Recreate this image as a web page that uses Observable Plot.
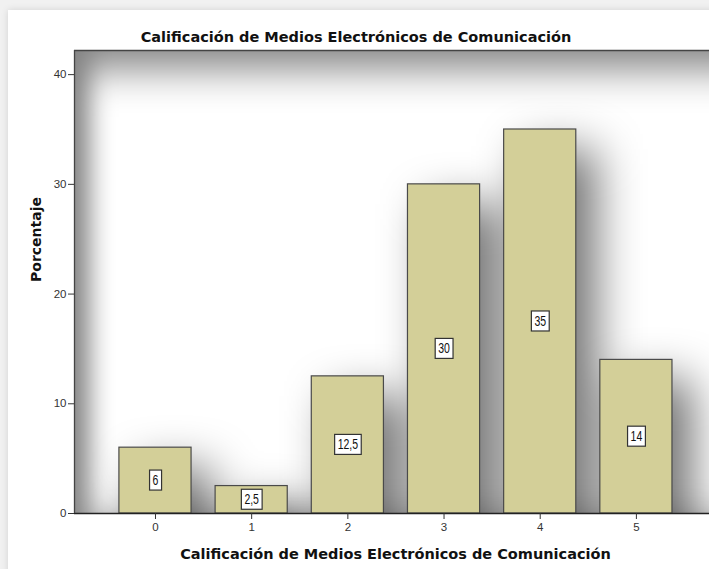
<!DOCTYPE html>
<html>
<head>
<meta charset="utf-8">
<script src="https://cdn.jsdelivr.net/npm/d3@7"></script>
<script src="https://cdn.jsdelivr.net/npm/@observablehq/plot@0.6"></script>
<style>
  html, body { margin: 0; padding: 0; width: 709px; height: 569px; overflow: hidden; background: #f1f1f1; }
  #card { position: absolute; left: 8px; top: 10px; width: 760px; height: 620px; background: #ffffff; box-shadow: 0 0 7px rgba(0,0,0,0.13); }
  #chart { position: absolute; left: 0; top: 0; }
  .ttl { position: absolute; font-family: "DejaVu Sans", sans-serif; font-weight: bold; font-size: 14.5px; line-height: 14.5px; color: #111; text-align: center; white-space: nowrap; }
  #title { left: 0; width: 712px; top: 30px; }
  #xlabel { left: 74px; width: 643px; top: 547px; }
</style>
</head>
<body>
<div id="card"></div>
<div id="chart"></div>
<div id="title" class="ttl">Calificación de Medios Electrónicos de Comunicación</div>
<div id="xlabel" class="ttl">Calificación de Medios Electrónicos de Comunicación</div>
<script>
// ---- data ----
const categories = [0, 1, 2, 3, 4, 5];
const percentages = [6, 2.5, 12.5, 30, 35, 14];
const valueLabels = ["6", "2,5", "12,5", "30", "35", "14"];
const yTicks = [0, 10, 20, 30, 40];
const yTitle = "Porcentaje";

// scale settings
const xDomain = [-0.842, 5.76];
const yDomain = [0, 42.2];
const halfBar = 0.375;

const data = categories.map((c, i) => ({cat: c, value: percentages[i], label: valueLabels[i]}));

const chart = Plot.plot({
  width: 709,
  height: 569,
  marginTop: 50,
  marginBottom: 56,
  marginLeft: 74,
  marginRight: 0,
  style: {background: "transparent", fontFamily: "'Liberation Sans', Arial, sans-serif", fontSize: "11.5px", color: "#333"},
  x: {type: "linear", domain: xDomain},
  y: {domain: yDomain},
  marks: [
    Plot.frame({fill: "#838383"}),
    Plot.frame({fill: "#ffffff", insetLeft: 15, insetTop: 18, insetRight: -80, insetBottom: -10, ariaDescription: "vignette"}),
    Plot.rectY(data, {x1: d => d.cat - halfBar, x2: d => d.cat + halfBar, y: "value", fill: "#000", fillOpacity: 0.56, insetBottom: -60, ariaDescription: "shadow"}),
    Plot.rectY(data, {x1: d => d.cat - halfBar, x2: d => d.cat + halfBar, y: "value", fill: "#d3cf98", stroke: "#4a4a4a", strokeWidth: 1.2}),
    Plot.ruleY([yDomain[0]], {stroke: "#222", strokeWidth: 1.3}),
    Plot.ruleX([xDomain[0]], {stroke: "#444", strokeWidth: 1.3}),
    Plot.ruleY([yDomain[1]], {stroke: "#444", strokeWidth: 1.3}),
    Plot.axisY({ticks: yTicks, tickSize: 6, tickPadding: 2, label: null, tickFormat: d => d}),
    Plot.axisX({ticks: categories, tickSize: 6, tickPadding: 3, label: null, tickFormat: d => d}),
    Plot.text([yTitle], {frameAnchor: "left", rotate: -90, dx: -38, text: d => d, fontFamily: "'DejaVu Sans', sans-serif", fontWeight: "bold", fontSize: 14, fill: "#111"}),
    Plot.text(data, {x: "cat", y: d => d.value / 2, text: "label", ariaDescription: "labels", fontFamily: "'Liberation Sans', Arial, sans-serif", fontSize: 14, fill: "#111"})
  ]
});

document.getElementById("chart").append(chart);

// ---- visual effects (filters, clipping) and label boxes ----
const svg = d3.select(chart);
const defs = svg.insert("defs", ":first-child");
defs.append("clipPath").attr("id", "frameclip")
  .append("rect").attr("x", 74).attr("y", 50).attr("width", 709 - 74).attr("height", 569 - 56 - 50);
const fv = defs.append("filter").attr("id", "vig").attr("filterUnits", "userSpaceOnUse")
  .attr("x", -100).attr("y", -100).attr("width", 1000).attr("height", 800);
fv.append("feGaussianBlur").attr("stdDeviation", "12 20");
const fs = defs.append("filter").attr("id", "shd").attr("filterUnits", "userSpaceOnUse")
  .attr("x", -100).attr("y", -100).attr("width", 1000).attr("height", 800);
fs.append("feOffset").attr("dx", 20).attr("dy", 20).attr("result", "o");
fs.append("feGaussianBlur").attr("in", "o").attr("stdDeviation", 23);

function wrapClipFilter(sel, filterId) {
  sel.each(function() {
    const node = this;
    const wrap = document.createElementNS("http://www.w3.org/2000/svg", "g");
    wrap.setAttribute("clip-path", "url(#frameclip)");
    node.parentNode.insertBefore(wrap, node);
    wrap.appendChild(node);
    node.setAttribute("filter", `url(#${filterId})`);
  });
}
wrapClipFilter(svg.selectAll('[aria-description="vignette"]'), "vig");
wrapClipFilter(svg.selectAll('[aria-description="shadow"]'), "shd");

svg.selectAll('[aria-description="labels"] text').each(function() {
  const b = this.getBBox();
  const sx = 0.75;
  const t = this.getAttribute("transform") || "";
  this.setAttribute("transform", t + ` scale(${sx},1)`);
  d3.select(this.parentNode).insert("rect", () => this)
    .attr("transform", t)
    .attr("x", b.x * sx - 3).attr("y", b.y - 2)
    .attr("width", b.width * sx + 6).attr("height", b.height + 4)
    .attr("fill", "#fff").attr("stroke", "#333").attr("stroke-width", 1.2);
});
</script>
</body>
</html>
